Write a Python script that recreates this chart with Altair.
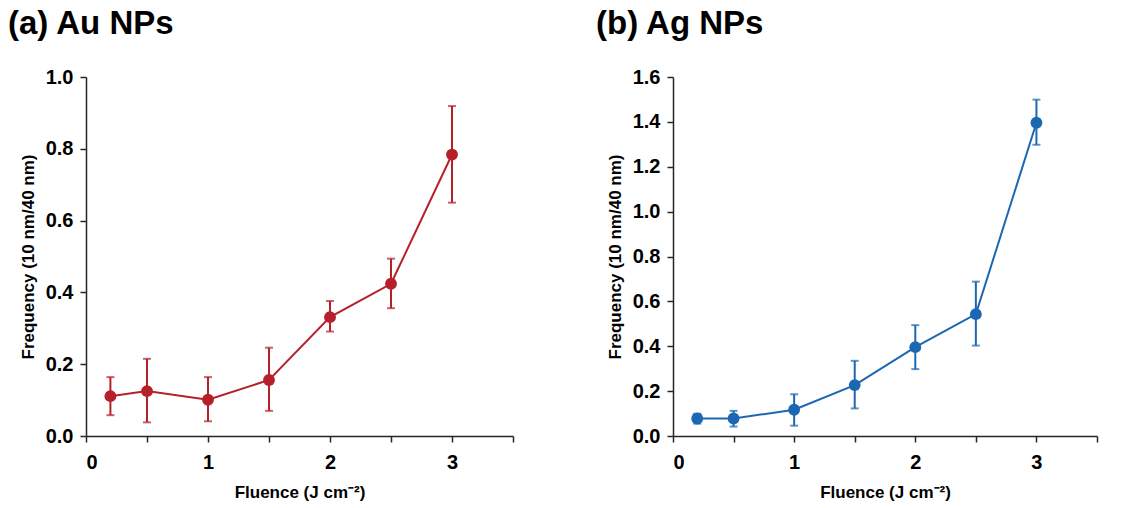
import altair as alt
import pandas as pd

fluence = [0.2, 0.5, 1.0, 1.5, 2.0, 2.5, 3.0]

au_mean = [0.111, 0.125, 0.101, 0.156, 0.331, 0.424, 0.784]
au_upper = [0.164, 0.215, 0.164, 0.246, 0.376, 0.494, 0.919]
au_lower = [0.058, 0.038, 0.041, 0.070, 0.291, 0.356, 0.650]

ag_mean = [0.078, 0.078, 0.117, 0.227, 0.396, 0.543, 1.396]
ag_upper = [0.099, 0.112, 0.186, 0.335, 0.494, 0.688, 1.499]
ag_lower = [0.055, 0.042, 0.046, 0.123, 0.298, 0.403, 1.298]

x_ticks = [0, 0.5, 1, 1.5, 2, 2.5, 3, 3.5]
au_y_ticks = [round(i * 0.1, 1) for i in range(11)]
ag_y_ticks = [round(i * 0.1, 1) for i in range(17)]

FONT = "Liberation Sans"
RED = "#B5202A"
BLUE = "#1C67B2"


def panel(mean, upper, lower, color, title, ymax, yticks, width, title_dx):
    df = pd.DataFrame({"x": fluence, "y": mean, "hi": upper, "lo": lower})
    base = alt.Chart(df)
    xenc = alt.X(
        "x:Q",
        scale=alt.Scale(domain=[0, 3.5], nice=False),
        axis=alt.Axis(
            title="Fluence (J cm\u207b\u00b2)",
            values=x_ticks,
            labelExpr="datum.value % 1 == 0 ? format(datum.value, 'd') : ''",
            grid=False,
        ),
    )
    yenc = alt.Y(
        "y:Q",
        scale=alt.Scale(domain=[0, ymax], nice=False),
        axis=alt.Axis(
            title="Frequency (10 nm/40 nm)",
            values=yticks,
            labelExpr="round(datum.value * 10) % 2 == 0 ? format(datum.value, '.1f') : ''",
            grid=False,
        ),
    )
    line = base.mark_line(color=color, strokeWidth=2).encode(x=xenc, y=yenc)
    rule = base.mark_rule(color=color, strokeWidth=2).encode(x="x:Q", y="lo:Q", y2="hi:Q")
    cap_hi = base.mark_tick(color=color, orient="horizontal", size=8, thickness=2).encode(x="x:Q", y="hi:Q")
    cap_lo = base.mark_tick(color=color, orient="horizontal", size=8, thickness=2).encode(x="x:Q", y="lo:Q")
    pts = base.mark_circle(color=color, size=140, opacity=1).encode(x="x:Q", y="y:Q")
    return alt.layer(line, rule, cap_hi, cap_lo, pts).properties(
        width=width,
        height=359,
        title=alt.TitleParams(
            text=title,
            anchor="start",
            frame="group",
            font=FONT,
            fontSize=33,
            fontWeight="bold",
            color="black",
            offset=26,
            dx=title_dx,
        ),
    )


left = panel(au_mean, au_upper, au_lower, RED, "(a) Au NPs", 1.0, au_y_ticks, 427, -78)
right = panel(ag_mean, ag_upper, ag_lower, BLUE, "(b) Ag NPs", 1.6, ag_y_ticks, 424, -77)

chart = (
    alt.hconcat(left, right, spacing=82)
    .properties(padding={"left": 8, "top": 8, "right": 5, "bottom": 5})
    .configure_view(stroke=None)
    .configure_axis(
        labelFont=FONT,
        titleFont=FONT,
        labelFontSize=20,
        titleFontSize=17,
        labelFontWeight="bold",
        titleFontWeight="bold",
        labelColor="black",
        titleColor="black",
        domainColor="#262626",
        tickColor="#262626",
        domainWidth=1.5,
        tickWidth=1.5,
        tickSize=6,
    )
    .configure_axisX(titlePadding=12, labelPadding=10)
    .configure_axisY(titlePadding=8, labelPadding=7)
)

chart.save("out.html", embed_options={"renderer": "svg", "actions": False})
